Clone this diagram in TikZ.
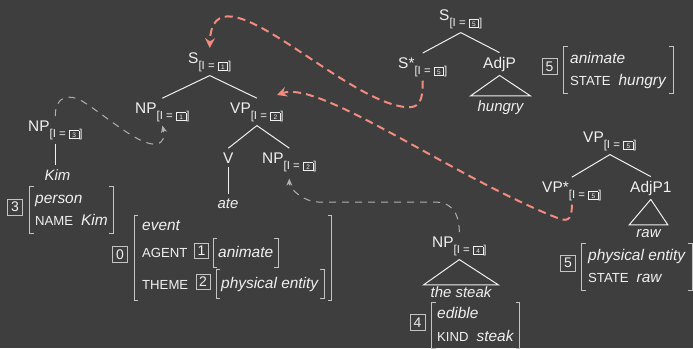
\documentclass[tikz,border=0pt]{standalone}
\usepackage{fontspec}
\setmainfont{Liberation Sans}
\usetikzlibrary{arrows.meta,fit}
\definecolor{bg}{HTML}{3E3E3E}
\definecolor{fg}{HTML}{F0F0F0}
\definecolor{brc}{HTML}{C4C4C4}
\definecolor{coral}{HTML}{F28B7D}
\definecolor{dgray}{HTML}{B0B0B0}
\newcommand\ibox[1]{{\setlength\fboxsep{1.4pt}\setlength\fboxrule{0.7pt}\fbox{\fontsize{6.5}{6.5}\selectfont\makebox[6bp]{#1}}}}
\newcommand\ix[1]{\raisebox{-6bp}{\fontsize{11.5}{12}\selectfont[I = \ibox{#1}]}}
\newcommand\scap[1]{{\fontsize{13.2}{14}\selectfont #1}}
\newcommand\avmbrackets[1]{%
  \draw[brline] ([xshift=4bp]#1.north west) -- (#1.north west) -- (#1.south west) -- ([xshift=4bp]#1.south west);
  \draw[brline] ([xshift=-4bp]#1.north east) -- (#1.north east) -- (#1.south east) -- ([xshift=-4bp]#1.south east);}
\tikzset{
  cat/.style={inner sep=4bp, font=\fontsize{15.5}{18}\selectfont, text=fg, anchor=base west},
  leaf/.style={inner sep=4bp, font=\fontsize{15}{18}\selectfont\itshape, text=fg, anchor=base},
  branch/.style={draw=fg, line width=1bp},
  avmt/.style={inner sep=0pt, text height=12bp, text depth=4bp, anchor=base west, font=\fontsize{15.5}{18}\selectfont, text=fg},
  tagb/.style={draw=brc, line width=0.8bp, inner sep=0pt, minimum width=15bp, minimum height=16bp, font=\fontsize{14}{14}\selectfont, text=fg},
  brline/.style={draw=brc, line width=0.9bp},
  coralarrow/.style={draw=coral, line width=2bp, dash pattern=on 8bp off 5bp, -{Stealth[length=10bp,width=10bp,inset=3.5bp]}},
  grayarrow/.style={draw=dgray, line width=1bp, dash pattern=on 7bp off 6bp, -{Stealth[length=7bp,width=6bp,inset=2bp]}},
}
\begin{document}
\begin{tikzpicture}[x=1bp,y=-1bp]
\fill[bg] (0,0) rectangle (693,348);
\useasboundingbox (0,0) rectangle (693,348);

% tree 1
\node[cat] (s1) at (184,63) {S\ix{1}};
\node[cat] (np1) at (131,113) {NP\ix{1}};
\node[cat] (vp2) at (226,113) {VP\ix{2}};
\node[cat] (v) at (219,163) {V};
\node[cat] (np2) at (258,163) {NP\ix{2}};
\node[leaf] (ate) at (228,208) {ate};
\node[cat] (np3) at (24,131) {NP\ix{3}};
\node[leaf] (kim) at (57.5,180) {Kim};
\draw[branch] (s1.south) -- (np1.north);
\draw[branch] (s1.south) -- (vp2.north);
\draw[branch] (vp2.south) -- (v.north);
\draw[branch] (vp2.south) -- (np2.north);
\draw[branch] (v.south) -- (v.south |- ate.north);
\draw[branch] (np3.south) -- (np3.south |- kim.north);

% tree 2
\node[cat] (s5) at (435,20) {S\ix{5}};
\node[cat] (s5star) at (394,68) {S*\ix{5}};
\node[cat] (adjp) at (479,68) {AdjP};
\node[leaf] (hungry) at (500.5,111) {hungry};
\draw[branch] (s5.south) -- (s5star.north);
\draw[branch] (s5.south) -- (adjp.north);
\draw[branch] (adjp.south) -- ([xshift=-3bp]hungry.north west) -- ([xshift=3bp]hungry.north east) -- cycle;

% tree 3
\node[cat] (vp5) at (579,142) {VP\ix{5}};
\node[cat] (vp5star) at (538,192) {VP*\ix{5}};
\node[cat] (adjp1) at (626,192) {AdjP1};
\node[leaf] (raw) at (648.5,237) {raw};
\draw[branch] (vp5.south) -- (vp5star.north);
\draw[branch] (vp5.south) -- (adjp1.north);
\draw[branch] (adjp1.south) -- ([xshift=-3bp]raw.north west) -- ([xshift=3bp]raw.north east) -- cycle;

% NP the steak
\node[cat] (np4) at (428,247) {NP\ix{4}};
\node[leaf] (steak) at (461,297) {the steak};
\draw[branch] (np4.south) -- ([xshift=-3bp,yshift=-3bp]steak.north west) -- ([xshift=3bp,yshift=-3bp]steak.north east) -- cycle;

% AVM 3
\node[tagb] (t3) at (15,207) {3};
\node[avmt] (p3) at (35,203) {\textit{person}};
\node[avmt] (n3) at (35,225) {\scap{NAME}\hspace{8bp}\textit{Kim}};
\node[fit=(p3)(n3), inner xsep=5bp, inner ysep=4bp] (avm3) {};
\avmbrackets{avm3}

% AVM 0
\node[tagb] (t0) at (120,254.5) {0};
\node[avmt] (ev) at (142,230) {\textit{event}};
\node[avmt] (ag) at (142,257) {\scap{AGENT}};
\node[tagb, minimum width=14bp, minimum height=15bp] (t1) at (201.5,251) {1};
\node[avmt, inner xsep=5bp, inner ysep=6bp] (an) at (213,257) {\textit{animate}};
\node[avmt] (th) at (142,289) {\scap{THEME}};
\node[tagb, minimum width=14bp, minimum height=15bp] (t2) at (203,282) {2};
\node[avmt, inner xsep=5bp, inner ysep=6bp] (pe) at (216,288) {\textit{physical entity}};
\avmbrackets{an}
\avmbrackets{pe}
\node[fit=(ev)(ag)(an)(pe), inner xsep=7.5bp, inner ysep=2bp] (avm0) {};
\avmbrackets{avm0}

% AVM 5 top
\node[tagb] (t5a) at (549.5,66.5) {5};
\node[avmt] (an5) at (570,63) {\textit{animate}};
\node[avmt] (st5) at (570,85) {\scap{STATE}\hspace{8bp}\textit{hungry}};
\node[fit=(an5)(st5), inner xsep=6bp, inner ysep=4bp] (avm5a) {};
\avmbrackets{avm5a}

% AVM 5 bottom
\node[tagb] (t5b) at (568,263) {5};
\node[avmt] (pe5) at (588,260) {\textit{physical entity}};
\node[avmt] (st5b) at (588,282) {\scap{STATE}\hspace{8bp}\textit{raw}};
\node[fit=(pe5)(st5b), inner xsep=6bp, inner ysep=4.5bp] (avm5b) {};
\avmbrackets{avm5b}

% AVM 4
\node[tagb] (t4) at (417.5,322.5) {4};
\node[avmt] (ed) at (437,318) {\textit{edible}};
\node[avmt] (kd) at (437,341) {\scap{KIND}\hspace{8bp}\textit{steak}};
\node[fit=(ed)(kd), inner xsep=5bp, inner ysep=3.5bp] (avm4) {};
\avmbrackets{avm4}

% arrows
\coordinate (vp2in) at (277,95);
\draw[coralarrow] (s5star.south) .. controls +(0,22) and +(14,1.5) .. (405,107)
   .. controls (340,100) and (212,-40) .. (s1.north);
\draw[coralarrow] (vp5star.south) .. controls +(0,18) and +(11,4.5) .. (555,217)
   .. controls (450,175) and (320,80) .. (vp2in);
\draw[grayarrow] (np3.north) .. controls (55,95) and (70,94) .. (82,101)
   .. controls (105,115) and (140,147) .. (157,144)
   .. controls (163,143) and (165,136) .. (np1.south);
\draw[grayarrow] (np4.north) .. controls +(0,-22) and +(14,0) .. (435,202) -- (318,202)
   .. controls +(-14,0) and +(0,10) .. ([yshift=-3bp]np2.south);
\end{tikzpicture}
\end{document}
